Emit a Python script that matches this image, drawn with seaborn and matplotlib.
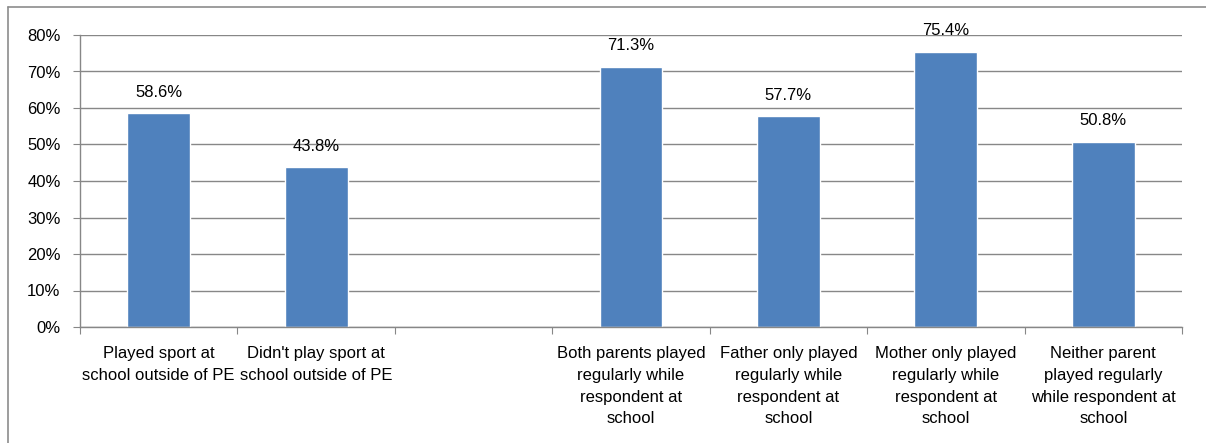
import numpy as np
import pandas as pd
import seaborn as sns
import matplotlib.pyplot as plt
from matplotlib.lines import Line2D

categories = ['Played sport at\nschool outside of PE',
              "Didn't play sport at\nschool outside of PE",
              ' ',
              'Both parents played\nregularly while\nrespondent at\nschool',
              'Father only played\nregularly while\nrespondent at\nschool',
              'Mother only played\nregularly while\nrespondent at\nschool',
              'Neither parent\nplayed regularly\nwhile respondent at\nschool']
values = [58.6, 43.8, np.nan, 71.3, 57.7, 75.4, 50.8]
yticks = [0, 10, 20, 30, 40, 50, 60, 70, 80]

df = pd.DataFrame({'cat': categories, 'pct': values}).dropna()

sns.set_style('white')
plt.rcParams['font.family'] = ['Liberation Sans', 'DejaVu Sans']
plt.rcParams['text.color'] = 'black'
plt.rcParams['xtick.labelcolor'] = 'black'
plt.rcParams['ytick.labelcolor'] = 'black'

fig = plt.figure(figsize=(12.06, 4.43), dpi=100)
ax = fig.add_axes([80 / 1206, 1 - 327 / 443, 1102 / 1206, 292 / 443])

sns.barplot(data=df, x='cat', y='pct', order=categories, color='#4F81BD',
            saturation=1, width=0.4, ax=ax)

grid_col = '#878787'
fs = 12
ax.set_ylim(0, 80)
ax.set_xlim(-0.5, len(categories) - 0.5)
ax.set_yticks(yticks)
ax.set_yticklabels([f'{v}%' for v in yticks], fontsize=fs)
ax.yaxis.grid(True, color=grid_col, linewidth=1)
ax.set_axisbelow(True)
ax.tick_params(axis='y', length=5, color=grid_col, pad=9, left=True, labelcolor='black')

# boundary ticks, labels in the middle
ax.set_xticks(np.arange(-0.5, len(categories), 1.0))
ax.set_xticklabels([])
ax.set_xticks(np.arange(len(categories)), minor=True)
ax.set_xticklabels(categories, minor=True, fontsize=fs, linespacing=1.55)
ax.tick_params(axis='x', which='major', length=5, color=grid_col, bottom=True)
ax.tick_params(axis='x', which='minor', length=0, pad=14, labelcolor='black')

ax.set_xlabel('')
ax.set_ylabel('')
for s in ['top', 'right']:
    ax.spines[s].set_visible(False)
for s in ['left', 'bottom']:
    ax.spines[s].set_color(grid_col)
    ax.spines[s].set_linewidth(1)

for i, v in enumerate(values):
    if not np.isnan(v):
        ax.annotate(f'{v:.1f}%', (i, v), xytext=(0, 15), textcoords='offset points',
                    ha='center', va='center', fontsize=fs, color='black')

# outer chart frame
fig.add_artist(Line2D([7.5 / 1206, 7.5 / 1206], [0, 1 - 6.5 / 443],
                      transform=fig.transFigure, color='#8c8c8c', linewidth=1.2))
fig.add_artist(Line2D([7.5 / 1206, 1], [1 - 6.5 / 443, 1 - 6.5 / 443],
                      transform=fig.transFigure, color='#8c8c8c', linewidth=1.2))

fig.savefig('out.png', dpi=100)
